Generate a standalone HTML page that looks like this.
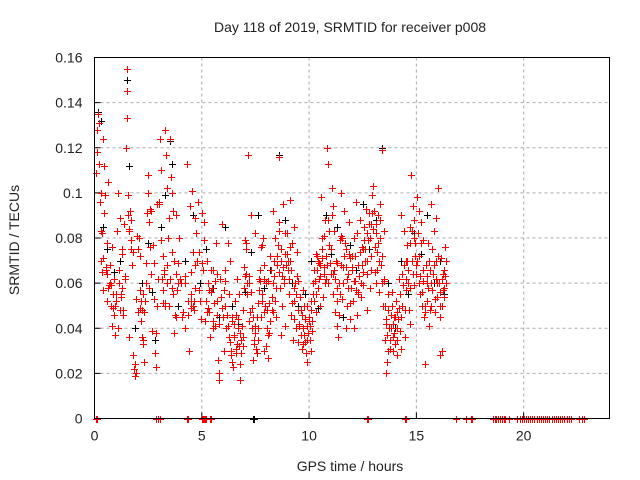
<!DOCTYPE html>
<html><head><meta charset="utf-8"><style>
body{margin:0;background:#fff}
svg{display:block;font-family:"Liberation Sans",sans-serif}
</style></head><body>
<svg id="chart" width="640" height="480" xmlns="http://www.w3.org/2000/svg">
<text x="350" y="32" text-anchor="middle" font-size="14" fill="#222">Day 118 of 2019, SRMTID for receiver p008</text>
<text transform="translate(19,240) rotate(-90)" text-anchor="middle" font-size="14" fill="#222">SRMTID / TECUs</text>
<text x="350" y="471" text-anchor="middle" font-size="14" fill="#222">GPS time / hours</text>
<g id="grid"></g>
<g id="ticks"></g>
<g id="black"></g>
<g id="red"></g>
<rect x="94.5" y="57.5" width="515" height="361" fill="none" stroke="#000"/>
</svg>
<script>
const xTicks=[0,5,10,15,20];
const yTicks=[0,0.02,0.04,0.06,0.08,0.1,0.12,0.14,0.16];
const yTickLabels=["0","0.02","0.04","0.06","0.08","0.1","0.12","0.14","0.16"];
const redT=[0.05,0.1,0.15,0.2,0.25,0.3,0.35,0.4,0.45,0.5,0.55,0.6,0.65,0.7,0.75,0.8,0.85,0.9,0.95,0.2,0.3,0.4,0.45,0.6,0.8,0.9,
1.0,1.05,1.1,1.15,1.2,1.25,1.3,1.35,1.4,1.45,1.5,1.5,1.5,1.55,1.6,1.65,1.7,1.75,1.8,1.85,1.9,1.95,1.1,1.3,1.6,1.7,
2.0,2.05,2.1,2.15,2.2,2.25,2.3,2.35,2.4,2.45,2.5,2.55,2.6,2.65,2.7,2.75,2.8,2.85,2.9,2.95,2.1,2.2,2.5,2.6,2.9,
3.0,3.05,3.1,3.15,3.2,3.25,3.3,3.35,3.4,3.45,3.5,3.55,3.6,3.65,3.7,3.75,3.8,3.85,3.9,3.95,3.1,3.2,3.4,3.6,3.8,3.3,
4.0,4.1,4.2,4.3,4.35,4.4,4.45,4.5,4.55,4.6,4.65,4.7,4.75,4.8,4.85,4.9,4.95,4.2,4.5,4.7,
5.0,5.05,5.1,5.15,5.2,5.25,5.3,5.35,5.4,5.45,5.5,5.55,5.6,5.65,5.7,5.75,5.8,5.85,5.9,5.95,5.1,5.3,5.5,5.7,5.8,
6.0,6.05,6.1,6.15,6.2,6.25,6.3,6.35,6.4,6.45,6.5,6.55,6.6,6.65,6.7,6.75,6.8,6.85,6.9,6.95,6.1,6.3,6.4,6.6,6.8,6.9,
7.0,7.05,7.1,7.15,7.2,7.25,7.3,7.35,7.4,7.45,7.5,7.55,7.6,7.65,7.7,7.75,7.8,7.85,7.9,7.95,7.05,7.2,7.5,7.6,7.8,7.9,
8.0,8.05,8.1,8.15,8.2,8.25,8.3,8.35,8.4,8.45,8.5,8.55,8.6,8.65,8.7,8.75,8.8,8.85,8.9,8.95,8.1,8.3,8.6,8.7,8.9,
9.0,9.05,9.1,9.15,9.2,9.25,9.3,9.35,9.4,9.45,9.5,9.55,9.6,9.65,9.7,9.75,9.8,9.85,9.9,9.95,9.1,9.3,9.5,9.7,9.9,
10.0,10.05,10.1,10.15,10.2,10.25,10.3,10.35,10.4,10.45,10.5,10.55,10.6,10.65,10.7,10.75,10.8,10.85,10.9,10.95,10.1,10.3,10.5,10.7,10.9,
11.0,11.05,11.1,11.15,11.2,11.25,11.3,11.35,11.4,11.45,11.5,11.55,11.6,11.65,11.7,11.75,11.8,11.85,11.9,11.95,11.1,11.3,11.5,11.7,11.9,
12.0,12.05,12.1,12.15,12.2,12.25,12.3,12.35,12.4,12.45,12.5,12.55,12.6,12.65,12.7,12.75,12.8,12.85,12.9,12.95,12.1,12.3,12.5,12.7,12.9,
13.0,13.05,13.1,13.15,13.2,13.25,13.3,13.35,13.4,13.45,13.5,13.55,13.6,13.65,13.7,13.75,13.8,13.85,13.9,13.95,13.1,13.3,13.5,13.6,13.7,13.9,
14.0,14.05,14.1,14.15,14.2,14.25,14.3,14.35,14.4,14.45,14.5,14.55,14.6,14.65,14.7,14.75,14.8,14.85,14.9,14.95,14.1,14.3,14.5,14.7,14.9,
15.0,15.05,15.1,15.15,15.2,15.25,15.3,15.35,15.4,15.45,15.5,15.55,15.6,15.65,15.7,15.75,15.8,15.85,15.9,15.95,15.1,15.3,15.5,15.7,15.9,
16.0,16.05,16.1,16.15,16.2,16.25,16.3,16.35,16.1,16.3];
const redV=[0.109,0.128,0.135,0.113,0.096,0.070,0.082,0.057,0.112,0.099,0.066,0.052,0.105,0.068,0.059,0.076,0.049,0.046,0.037,0.131,0.100,0.124,0.091,0.064,0.041,0.062,
0.055,0.083,0.100,0.060,0.089,0.054,0.075,0.048,0.063,0.120,0.155,0.145,0.133,0.099,0.083,0.092,0.075,0.068,0.028,0.022,0.019,0.053,0.040,0.058,0.036,0.088,
0.081,0.047,0.057,0.043,0.036,0.033,0.025,0.052,0.069,0.091,0.108,0.087,0.076,0.064,0.039,0.053,0.029,0.023,0.050,0.062,0.072,0.048,0.100,0.093,0.095,
0.095,0.124,0.079,0.062,0.051,0.066,0.128,0.117,0.060,0.089,0.124,0.107,0.074,0.055,0.038,0.046,0.064,0.057,0.069,0.080,0.110,0.072,0.102,0.100,0.090,0.050,
0.062,0.045,0.040,0.113,0.052,0.030,0.094,0.055,0.101,0.074,0.048,0.068,0.082,0.096,0.057,0.052,0.044,0.060,0.065,0.089,
0.091,0.066,0.079,0.043,0.052,0.070,0.060,0.047,0.036,0.056,0.066,0.051,0.041,0.078,0.046,0.026,0.017,0.062,0.054,0.086,0.087,0.049,0.040,0.064,0.020,
0.045,0.030,0.061,0.040,0.078,0.055,0.034,0.028,0.043,0.023,0.036,0.052,0.031,0.062,0.040,0.055,0.017,0.035,0.048,0.067,0.050,0.070,0.025,0.046,0.024,0.032,
0.079,0.075,0.060,0.117,0.063,0.047,0.090,0.040,0.026,0.033,0.038,0.029,0.051,0.062,0.066,0.045,0.055,0.080,0.068,0.050,0.064,0.043,0.082,0.035,0.077,0.030,
0.032,0.048,0.061,0.038,0.072,0.054,0.092,0.063,0.080,0.045,0.068,0.077,0.116,0.058,0.070,0.050,0.095,0.062,0.041,0.073,0.027,0.047,0.087,0.037,0.082,
0.066,0.055,0.097,0.046,0.078,0.035,0.052,0.060,0.040,0.074,0.034,0.042,0.048,0.031,0.057,0.037,0.044,0.029,0.050,0.038,0.070,0.085,0.061,0.033,0.025,
0.045,0.035,0.052,0.039,0.060,0.066,0.047,0.072,0.058,0.069,0.063,0.098,0.075,0.054,0.067,0.088,0.062,0.120,0.113,0.077,0.030,0.073,0.050,0.081,0.060,
0.064,0.102,0.055,0.083,0.047,0.070,0.041,0.036,0.060,0.079,0.100,0.053,0.067,0.092,0.075,0.050,0.064,0.087,0.044,0.058,0.094,0.069,0.081,0.040,0.071,
0.072,0.052,0.080,0.061,0.096,0.046,0.068,0.088,0.054,0.076,0.059,0.085,0.070,0.093,0.064,0.079,0.091,0.058,0.072,0.099,0.040,0.056,0.075,0.048,0.086,
0.103,0.065,0.082,0.074,0.090,0.056,0.095,0.068,0.119,0.050,0.083,0.035,0.042,0.025,0.048,0.031,0.040,0.056,0.036,0.045,0.060,0.080,0.061,0.020,0.055,0.030,
0.033,0.052,0.028,0.044,0.062,0.039,0.090,0.050,0.083,0.036,0.057,0.077,0.066,0.048,0.085,0.108,0.070,0.094,0.059,0.078,0.047,0.031,0.070,0.042,0.088,
0.064,0.098,0.072,0.055,0.087,0.050,0.061,0.045,0.024,0.068,0.052,0.078,0.041,0.066,0.095,0.057,0.083,0.047,0.070,0.054,0.092,0.079,0.063,0.050,0.089,
0.102,0.060,0.028,0.071,0.050,0.064,0.058,0.076,0.045,0.066];
const redT2=[0.12,0.28,0.38,0.52,0.62,0.72,0.78,0.88,0.97,0.33,0.58,0.68,
1.02,1.12,1.22,1.28,1.38,1.42,1.58,1.68,1.78,1.88,1.92,1.18,1.33,1.62,
2.02,2.08,2.18,2.28,2.32,2.42,2.52,2.62,2.72,2.78,2.88,2.12,2.24,
3.02,3.12,3.18,3.28,3.38,3.42,3.52,3.62,3.72,3.78,3.88,3.22,3.48,3.68,
4.02,4.12,4.22,4.38,4.48,4.52,4.62,4.68,4.78,4.88,4.58,
5.02,5.12,5.22,5.32,5.42,5.52,5.62,5.72,5.82,5.92,5.48,
6.02,6.08,6.18,6.22,6.28,6.38,6.42,6.48,6.52,6.58,6.62,6.68,6.72,6.78,6.82,6.88,6.92,6.98,
7.02,7.08,7.12,7.22,7.28,7.32,7.38,7.42,7.48,7.52,7.58,7.62,7.68,7.72,7.78,7.82,7.88,7.92,7.98,
8.02,8.08,8.12,8.18,8.22,8.28,8.32,8.38,8.42,8.48,8.52,8.58,8.62,8.68,8.72,8.78,8.82,8.88,8.92,8.98,
9.02,9.08,9.12,9.18,9.22,9.28,9.32,9.38,9.42,9.48,9.52,9.58,9.62,9.68,9.72,9.78,9.82,9.88,9.92,9.98,
10.02,10.08,10.12,10.18,10.22,10.28,10.32,10.38,10.42,10.48,10.52,10.58,10.62,10.68,10.72,10.78,10.82,10.88,10.92,10.98,
11.02,11.08,11.12,11.18,11.22,11.28,11.32,11.38,11.42,11.48,11.52,11.58,11.62,11.68,11.72,11.78,11.82,11.88,11.92,11.98,
12.02,12.08,12.12,12.18,12.22,12.28,12.32,12.38,12.42,12.48,12.52,12.58,12.62,12.68,12.72,12.78,12.82,12.88,12.92,12.98,
13.02,13.08,13.12,13.18,13.22,13.28,13.32,13.38,13.42,13.48,13.52,13.58,13.62,13.68,13.72,13.78,13.82,13.88,13.92,13.98,
14.02,14.08,14.12,14.18,14.22,14.28,14.32,14.38,14.42,14.48,14.52,14.58,14.62,14.68,14.72,14.78,14.82,14.88,14.92,14.98,
15.02,15.08,15.12,15.18,15.22,15.28,15.32,15.38,15.42,15.48,15.52,15.58,15.62,15.68,15.72,15.78,15.82,15.88,15.92,15.98,
16.02,16.08,16.12,16.18,16.22,16.28,16.32,16.38,16.2,16.36];
const redV2=[0.118,0.083,0.071,0.067,0.058,0.060,0.050,0.055,0.050,0.065,0.078,0.059,
0.052,0.066,0.055,0.073,0.086,0.062,0.090,0.079,0.074,0.024,0.020,0.048,0.046,0.084,
0.075,0.080,0.052,0.035,0.047,0.060,0.058,0.092,0.077,0.069,0.038,0.049,0.055,
0.096,0.079,0.057,0.051,0.068,0.080,0.062,0.058,0.070,0.045,0.060,0.064,0.050,0.092,
0.060,0.047,0.063,0.046,0.052,0.049,0.052,0.058,0.070,0.074,0.050,
0.069,0.079,0.047,0.057,0.066,0.043,0.061,0.052,0.042,0.049,0.058,
0.057,0.066,0.046,0.041,0.036,0.030,0.045,0.037,0.042,0.029,0.033,0.044,0.032,0.038,0.029,0.041,0.036,0.058,
0.063,0.078,0.055,0.060,0.056,0.049,0.045,0.035,0.041,0.031,0.045,0.040,0.057,0.061,0.076,0.052,0.047,0.062,0.060,
0.040,0.037,0.051,0.043,0.066,0.048,0.060,0.070,0.052,0.058,0.072,0.083,0.065,0.075,0.063,0.067,0.060,0.073,0.068,0.082,
0.070,0.062,0.076,0.066,0.051,0.058,0.044,0.055,0.063,0.048,0.041,0.054,0.037,0.046,0.040,0.050,0.034,0.041,0.035,0.043,
0.041,0.048,0.043,0.055,0.052,0.061,0.055,0.066,0.070,0.062,0.068,0.080,0.071,0.064,0.060,0.072,0.068,0.088,0.083,0.069,
0.075,0.090,0.064,0.066,0.062,0.058,0.052,0.046,0.055,0.068,0.080,0.060,0.072,0.078,0.067,0.062,0.058,0.073,0.051,0.066,
0.067,0.061,0.072,0.057,0.082,0.055,0.063,0.074,0.060,0.068,0.065,0.079,0.075,0.082,0.070,0.086,0.080,0.066,0.091,0.084,
0.092,0.076,0.086,0.066,0.078,0.070,0.088,0.060,0.072,0.062,0.050,0.044,0.037,0.030,0.040,0.035,0.046,0.050,0.042,0.038,
0.045,0.040,0.035,0.049,0.055,0.045,0.064,0.059,0.068,0.048,0.062,0.070,0.060,0.058,0.078,0.083,0.064,0.080,0.072,0.068,
0.070,0.082,0.060,0.063,0.078,0.056,0.066,0.050,0.047,0.060,0.058,0.070,0.048,0.060,0.075,0.064,0.068,0.053,0.062,0.060,
0.072,0.056,0.050,0.062,0.057,0.054,0.063,0.060,0.030,0.070];
const blackT=[0.15,0.3,0.4,0.6,0.9,1.2,1.5,1.6,1.9,2.2,2.5,2.7,2.8,3.1,3.3,3.5,3.6,3.9,4.2,4.6,4.9,5.2,5.5,5.8,6.1,6.4,6.7,7.0,7.3,7.6,7.9,8.2,8.6,8.9,9.2,9.5,9.8,10.1,10.4,10.8,11.0,11.3,11.6,11.9,12.2,12.5,12.8,13.1,13.4,13.7,14.0,14.3,14.6,14.9,15.2,15.5,15.8,16.1,16.3];
const blackV=[0.136,0.132,0.085,0.075,0.065,0.070,0.150,0.112,0.040,0.060,0.078,0.056,0.035,0.085,0.099,0.123,0.113,0.050,0.070,0.090,0.060,0.075,0.058,0.045,0.085,0.050,0.042,0.056,0.074,0.090,0.058,0.066,0.117,0.088,0.060,0.050,0.055,0.070,0.049,0.090,0.073,0.085,0.045,0.077,0.066,0.095,0.075,0.088,0.120,0.060,0.040,0.070,0.055,0.082,0.073,0.090,0.060,0.070,0.055];
const redZeroT=[0.08,0.12,2.85,2.95,3.05,4.3,4.35,5.0,5.05,5.1,5.15,5.2,5.4,5.45,12.7,12.75,14.45,14.5,16.85,17.3,17.55,17.6,18.55,18.65,18.7,18.8,18.9,19.0,19.1,19.15,19.3,19.7,19.85,19.9,20.0,20.1,20.2,20.3,20.4,20.5,20.6,20.7,20.8,20.9,21.0,21.1,21.2,21.3,21.4,21.5,21.6,21.7,21.8,21.9,22.0,22.1,22.2,22.6,22.7,22.8];
const blackZeroT=[7.4,7.45];

const NS="http://www.w3.org/2000/svg";
const L=94.5,R=609.5,T=57.5,B=418.5,XMAX=24,YMAX=0.16;
const xs=v=>L+v/XMAX*(R-L);
const ys=v=>B-v/YMAX*(B-T);
function mk(tag,attrs,parent){const e=document.createElementNS(NS,tag);for(const k in attrs)e.setAttribute(k,attrs[k]);parent.appendChild(e);return e;}
const grid=document.getElementById('grid'),ticks=document.getElementById('ticks');
xTicks.forEach((v,i)=>{
  const x=xs(v);
  if(v>0){const g=mk('line',{x1:x,x2:x,y1:T,y2:B,stroke:'#aaa','stroke-dasharray':'3,3'},grid);
  
  }
  const t=mk('line',{x1:x,x2:x,y1:B,y2:B-6,stroke:'#000'},ticks);
  
  
  const lb=mk('text',{x:x,y:B+22,'text-anchor':'middle','font-size':'14',fill:'#222'},ticks);
  lb.textContent=String(v);
  
  
});
yTicks.forEach((v,i)=>{
  const y=ys(v);
  if(v>0&&v<YMAX){const g=mk('line',{x1:L,x2:R,y1:y,y2:y,stroke:'#aaa','stroke-dasharray':'3,3'},grid);
  
  }
  const t=mk('line',{x1:L,x2:L+6,y1:y,y2:y,stroke:'#000'},ticks);
  
  
  const lb=mk('text',{x:L-12,y:y+5,'text-anchor':'end','font-size':'14',fill:'#222'},ticks);
  lb.textContent=yTickLabels[i];
  
  
});
function plus(g,t,v,color){
  const x=Math.round(xs(t))+0.5,y=Math.round(ys(v))+0.5;
  const p=mk('path',{d:`M${x-3.5} ${y}H${x+3.5}M${x} ${y-3.5}V${y+3.5}`,stroke:color,'stroke-width':1,fill:'none'},g);
  
  
}
const gb=document.getElementById('black'),gr=document.getElementById('red');
blackT.forEach((t,i)=>plus(gb,t,blackV[i],'#000'));
blackZeroT.forEach(t=>plus(gb,t,0,'#000'));
redT.forEach((t,i)=>plus(gr,t,redV[i],'#f00'));
redT2.forEach((t,i)=>plus(gr,t,redV2[i],'#f00'));
redZeroT.forEach(t=>plus(gr,t,0,'#f00'));
</script>
</body></html>
